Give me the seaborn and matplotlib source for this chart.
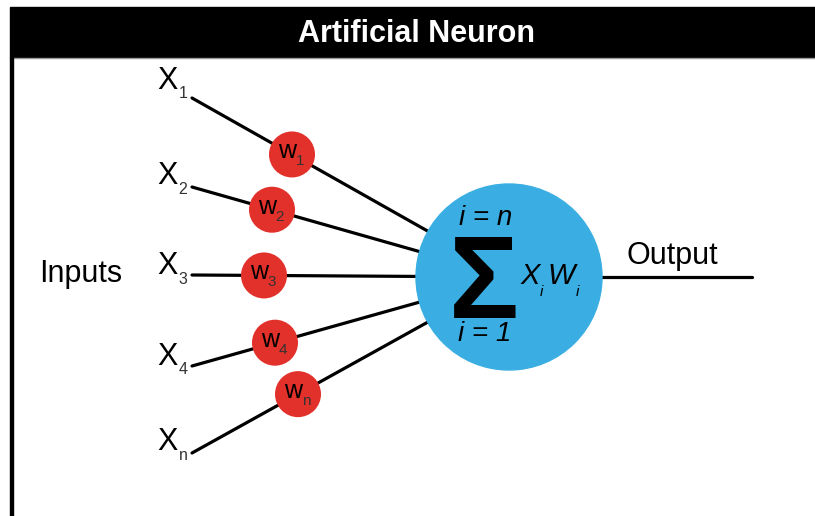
import numpy as np
import pandas as pd
import matplotlib.pyplot as plt
import seaborn as sb
from matplotlib.patches import Circle, Rectangle

sb.set_theme(style='white')
plt.rcParams['font.family'] = ['Liberation Sans', 'DejaVu Sans']
plt.rcParams['text.color'] = 'black'

# diagram content
title = 'Artificial Neuron'
input_subs = ['1', '2', '3', '4', 'n']
weight_subs = ['1', '2', '3', '4', 'n']
input_y = [98, 187, 275, 366, 453]        # where each input line starts (pixel rows)
weight_x = [292, 272, 264, 275, 298]      # where each weight node sits along its line
label_y = [81, 176, 266, 357, 442]        # X label rows

# layout (pixel space, y pointing down)
line_x0 = 192
neuron = (509, 277)
neuron_r = 93
output_end = 752
red = '#e2302a'
blue = '#3aaee2'

fig = plt.figure(figsize=(8.15, 5.16), dpi=100)
ax = fig.add_axes([0, 0, 1, 1])

# frame: header bar + left border
ax.add_patch(Rectangle((10, 7), 805, 50, color='black', zorder=1))
ax.plot([10, 815], [58, 58], color='#999999', lw=1, zorder=1)
ax.add_patch(Rectangle((10, 57), 3, 460, color='black', zorder=1))
ax.text(417, 34, title, color='white', fontsize=22, fontweight='bold',
        ha='center', va='center', zorder=2)

# input lines to neuron centre + output line
rows = []
for i, y0 in enumerate(input_y):
    rows.append({'x': line_x0, 'y': y0, 'seg': i})
    rows.append({'x': neuron[0], 'y': neuron[1], 'seg': i})
rows.append({'x': neuron[0], 'y': neuron[1], 'seg': 99})
rows.append({'x': output_end, 'y': neuron[1], 'seg': 99})
lines = pd.DataFrame(rows)
sb.lineplot(data=lines, x='x', y='y', units='seg', estimator=None, sort=False,
            color='black', lw=2.3, ax=ax, legend=False, zorder=3)

# weight nodes along each line
wy = []
for y0, wx in zip(input_y, weight_x):
    t = (wx - line_x0) / (neuron[0] - line_x0)
    wy.append(y0 + t * (neuron[1] - y0))
nodes = pd.DataFrame({'x': weight_x, 'y': wy})
sb.scatterplot(data=nodes, x='x', y='y', s=1097, color=red, edgecolor='none',
               ax=ax, zorder=4, legend=False)
ax.set_xlim(0, 815)
ax.set_ylim(516, 0)
ax.axis('off')

for wx, y, sub in zip(weight_x, wy, weight_subs):
    ax.text(wx - 5, y - 3, 'w', fontsize=18, ha='center', va='center', zorder=5)
    ax.text(wx + 8, y + 7, sub, fontsize=11, ha='center', va='center', color='#333333', zorder=5)

# input labels
for ly, sub in zip(label_y, input_subs):
    ax.text(168, ly, 'X', fontsize=22, ha='center', va='center')
    ax.text(183, ly + 13, sub, fontsize=11.5, ha='center', va='center', color='#333333')

ax.text(81, 274, 'Inputs', fontsize=22, ha='center', va='center')
ax.text(672, 256, 'Output', fontsize=22, ha='center', va='center')

# neuron body
ax.add_patch(Circle(neuron, neuron_r, color=blue, zorder=6))
ax.text(486, 218, 'i = n', fontsize=20, style='italic', ha='center', va='center', zorder=7)
ax.text(485, 334, 'i = 1', fontsize=20, style='italic', ha='center', va='center', zorder=7)
ax.text(484, 318, '\u03a3', fontsize=84, fontweight='bold', ha='center', va='baseline', zorder=7)
ax.text(530, 276, 'X', fontsize=21, style='italic', ha='center', va='center', zorder=7)
ax.text(541, 292, 'i', fontsize=11, style='italic', ha='center', va='center', zorder=7)
ax.text(561, 276, 'W', fontsize=21, style='italic', ha='center', va='center', zorder=7)
ax.text(577, 292, 'i', fontsize=11, style='italic', ha='center', va='center', zorder=7)

fig.savefig('out.png', dpi=100)
